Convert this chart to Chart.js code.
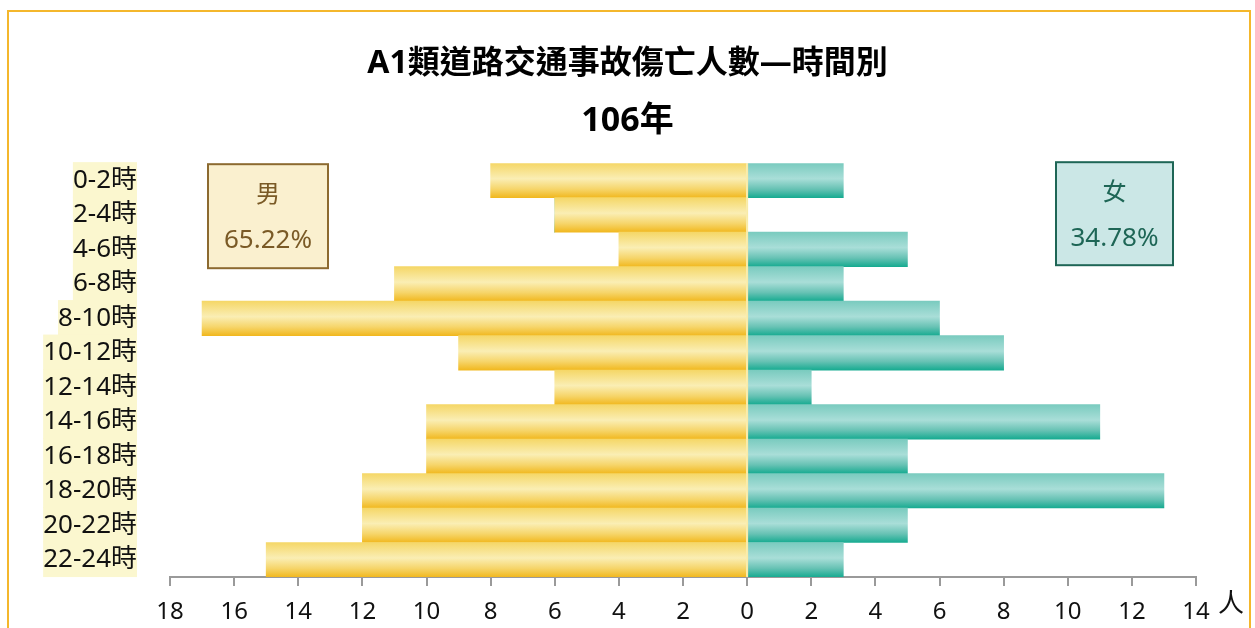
<!DOCTYPE html>
<html>
<head>
<meta charset="utf-8">
<script src="https://cdn.jsdelivr.net/npm/chart.js@4.4.1/dist/chart.umd.min.js"></script>
<style>
  html, body { margin: 0; padding: 0; background: #fff; overflow: hidden; }
  #frame {
    position: absolute; left: 7px; top: 10px; width: 1244px; height: 660px;
    border: 2px solid #F4B72C; box-sizing: border-box;
  }
  #pyramid { position: absolute; left: 0; top: 0; }
</style>
</head>
<body>
<div id="frame"></div>
<canvas id="pyramid" width="1255" height="628"></canvas>
<script>
"use strict";

// time slots (top to bottom)
var hourLabels = ['0-2時', '2-4時', '4-6時', '6-8時', '8-10時', '10-12時',
                  '12-14時', '14-16時', '16-18時', '18-20時', '20-22時', '22-24時'];
// people, 106年
var maleCounts   = [8, 6, 4, 11, 17, 9, 6, 10, 10, 12, 12, 15];
var femaleCounts = [3, 0, 5, 3, 6, 8, 2, 11, 5, 13, 5, 3];
var titleText = 'A1類道路交通事故傷亡人數—時間別';
var subtitleText = '106年';
var unitLabel = '人';

var FONT = '"Noto Sans", "Noto Sans CJK TC", sans-serif';

function sum(arr) {
    return arr.reduce(function(a, b) { return a + b; }, 0);
}
var total = sum(maleCounts) + sum(femaleCounts);
var malePct = (sum(maleCounts) / total * 100).toFixed(2) + '%';
var femalePct = (sum(femaleCounts) / total * 100).toFixed(2) + '%';

//builds a vertical gradient for each bar, from its own row on the y scale
function barFill(stops) {
    return function(ctx) {
        var chart = ctx.chart;
        var yScale = chart.scales.y;
        if (!chart.chartArea || !yScale || ctx.dataIndex === undefined) {
            return stops[stops.length - 1][1];
        }
        var yc = yScale.getPixelForValue(ctx.dataIndex);
        var h = (chart.chartArea.bottom - chart.chartArea.top) / hourLabels.length;
        var g = chart.ctx.createLinearGradient(0, yc - h / 2, 0, yc + h / 2);
        stops.forEach(function(s) { g.addColorStop(s[0], s[1]); });
        return g;
    };
}

var maleStops = [[0, '#F5D767'], [0.45, '#FAEEB4'], [0.75, '#F6D56A'], [1, '#F1B81F']];
var femaleStops = [[0, '#7ACBBF'], [0.45, '#A9DED8'], [0.75, '#67C2B4'], [1, '#17AB91']];

// zero line + gender boxes + unit
var extras = {
    id: 'extras',
    afterDatasetsDraw: function(chart) {
        var c = chart.ctx, a = chart.chartArea, x0 = chart.scales.x.getPixelForValue(0);
        c.save();
        c.strokeStyle = '#F8EBA8';
        c.lineWidth = 2;
        c.beginPath();
        c.moveTo(x0, a.top);
        c.lineTo(x0, a.bottom);
        c.stroke();
        c.restore();
    },
    afterDraw: function(chart) {
        var c = chart.ctx, a = chart.chartArea, xs = chart.scales.x;

        function box(x, y, w, h, fill, stroke, txtColor, l1, l2) {
            c.save();
            c.fillStyle = fill;
            c.fillRect(x, y, w, h);
            c.strokeStyle = stroke;
            c.lineWidth = 2;
            c.strokeRect(x, y, w, h);
            c.fillStyle = txtColor;
            c.textAlign = 'center';
            c.textBaseline = 'middle';
            c.font = '24px ' + FONT;
            c.fillText(l1, x + w / 2, y + 31);
            c.font = '26px ' + FONT;
            c.fillText(l2, x + w / 2, y + 76);
            c.restore();
        }
        box(a.left + 38, a.top + 1, 120, 104, '#FAF0CF', '#8C6A30', '#7A5A26', '男', malePct);
        box(a.right - 140, a.top - 1, 117, 103, '#CBE7E6', '#1E6656', '#1E6656', '女', femalePct);

        c.save();
        c.fillStyle = '#111';
        c.font = '26px ' + FONT;
        c.textAlign = 'left';
        c.textBaseline = 'middle';
        c.fillText(unitLabel, xs.getPixelForValue(14) + 22, a.bottom + 28);
        c.restore();
    }
};

var chartCanvas = document.getElementById('pyramid');
var pyramidChart = new Chart(chartCanvas, {
    type: 'bar',
    data: {
        labels: hourLabels,
        datasets: [
            {
                label: '男',
                data: maleCounts.map(function(v) { return -v; }),
                backgroundColor: barFill(maleStops),
                borderWidth: 0,
                barPercentage: 1,
                categoryPercentage: 1
            },
            {
                label: '女',
                data: femaleCounts,
                backgroundColor: barFill(femaleStops),
                borderWidth: 0,
                barPercentage: 1,
                categoryPercentage: 1
            }
        ]
    },
    options: {
        indexAxis: 'y',
        responsive: false,
        animation: false,
        devicePixelRatio: 1,
        layout: { padding: 0 },
        plugins: {
            legend: { display: false },
            tooltip: { enabled: false },
            title: {
                display: true,
                text: titleText,
                color: '#000',
                font: { family: FONT, size: 32, weight: 'bold', lineHeight: 1.2 },
                padding: { top: 45, bottom: 18 }
            },
            subtitle: {
                display: true,
                text: subtitleText,
                color: '#000',
                font: { family: FONT, size: 34, weight: 'bold', lineHeight: 1.2 },
                padding: { top: 0, bottom: 21 }
            }
        },
        scales: {
            x: {
                stacked: true,
                min: -18,
                max: 14,
                border: { display: true, color: '#9A9A9A', width: 2 },
                grid: { display: true, drawOnChartArea: false, drawTicks: true, tickLength: 9, color: '#9A9A9A', lineWidth: 2 },
                ticks: {
                    stepSize: 2,
                    padding: 12,
                    color: '#111',
                    font: { family: FONT, size: 24 },
                    callback: function(v) { return Math.abs(v); }
                },
                afterFit: function(s) { s.height = 51; }
            },
            y: {
                stacked: true,
                border: { display: false },
                grid: { display: false, drawTicks: false },
                ticks: {
                    padding: 33,
                    color: '#111',
                    font: { family: FONT, size: 26, lineHeight: 1.1 },
                    showLabelBackdrop: true,
                    backdropColor: '#FBF7CF',
                    backdropPadding: { top: 4, bottom: 3, left: 0, right: 0 }
                },
                afterFit: function(s) { s.width = 170; }
            },
            // empty right margin so the title stays centred on the page
            yRight: {
                type: 'category',
                labels: hourLabels,
                position: 'right',
                border: { display: false },
                grid: { display: false, drawTicks: false },
                ticks: { display: false },
                afterFit: function(s) { s.width = 59; }
            }
        }
    },
    plugins: [extras]
});
</script>
</body>
</html>
